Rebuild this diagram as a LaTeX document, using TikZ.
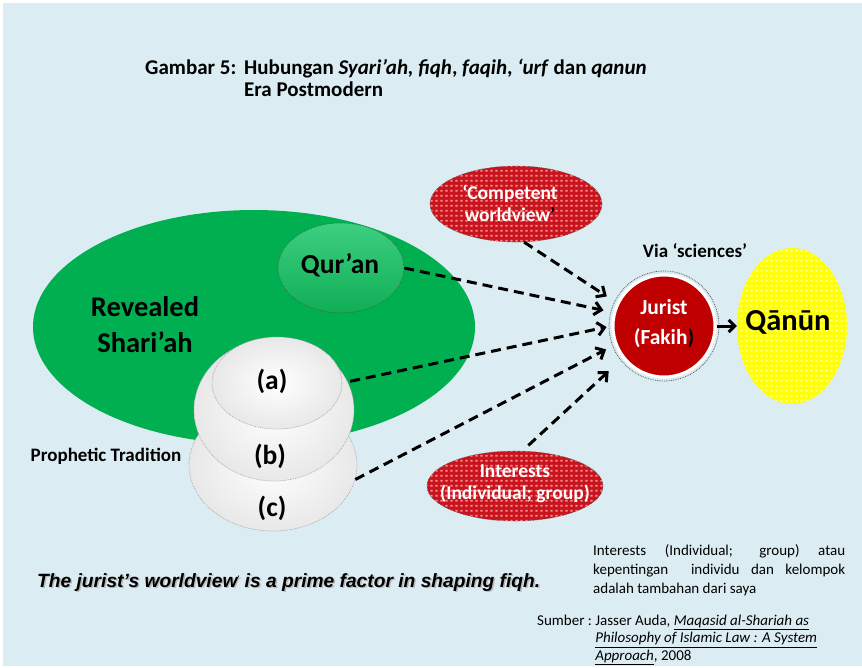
\documentclass[tikz,border=0pt]{standalone}
\usepackage{fontspec}
\setmainfont{Carlito}
\newfontfamily\arialfont{Liberation Sans}
\usetikzlibrary{shapes.geometric,arrows.meta,patterns.meta}

\definecolor{bgblue}{HTML}{DBEDF3}
\definecolor{sgreen}{HTML}{00B050}
\definecolor{qgreenT}{HTML}{3CCF80}
\definecolor{qgreenB}{HTML}{10AE55}
\definecolor{dred}{HTML}{C8141E}
\definecolor{jred}{HTML}{C00000}
\definecolor{qyellow}{HTML}{FFFF00}

\tikzdeclarepattern{
  name=gridsq,
  type=uncolored,
  bounding box={(0pt,0pt) and (5pt,5pt)},
  tile size={(5pt,5pt)},
  code={\fill (0.5pt,0.5pt) rectangle (3pt,2.6pt);}
}

\begin{document}
\begin{tikzpicture}[x=1pt,y=-1pt,
  blob/.style={ellipse, inner sep=0pt},
  redblob/.style={blob, fill=dred, draw=black!70, densely dotted, line width=0.6pt,
    postaction={pattern=gridsq, pattern color=red!45!white}},
  whiteblob/.style={blob, inner color=white, outer color=gray!18, draw=gray!70, densely dotted, line width=0.7pt},
  dasharrow/.style={line width=3pt, dash pattern=on 10pt off 6pt, -{Straight Barb[length=7pt,width=13pt,line width=3pt]}},
  solidarrow/.style={line width=3pt, -{Straight Barb[length=6pt,width=12pt,line width=3pt]}},
  bigtxt/.style={font=\fontsize{28.5}{36}\selectfont\bfseries, align=center},
  midtxt/.style={font=\fontsize{27.5}{30}\selectfont\bfseries},
  whitetxt/.style={font=\fontsize{19.5}{22}\selectfont\bfseries, text=white, align=center},
  labeltxt/.style={font=\fontsize{19}{22}\selectfont\bfseries},
  notetxt/.style={font=\fontsize{15}{19}\selectfont},
  moraltxt/.style={anchor=base west, inner sep=0pt, font=\arialfont\fontsize{19.2}{22}\selectfont\bfseries\itshape}
]
\useasboundingbox (0,0) rectangle (862,667);
\fill[white] (0,0) rectangle (862,667);
\fill[bgblue] (3,3) rectangle (862,666);

% title
\node[anchor=base west, inner sep=0pt, font=\fontsize{21}{24}\selectfont\bfseries] (t1) at (145,74) {Gambar 5:};
\node[anchor=base west, inner sep=0pt, font=\fontsize{21}{24}\selectfont\bfseries] (t2) at (244,74) {Hubungan \textit{Syari’ah, fiqh}, \textit{faqih}, \textit{‘urf} dan \textit{qanun}};
\node[anchor=base west, inner sep=0pt, font=\fontsize{21}{24}\selectfont\bfseries] (t3) at (244,96) {Era Postmodern};

% Shariah
\node[blob, fill=sgreen, minimum width=442pt, minimum height=234pt] (shariah) at (254,327) {};
\node[blob, top color=qgreenT, bottom color=qgreenB, draw=gray!60!black, densely dotted, line width=0.6pt,
      minimum width=126pt, minimum height=90pt] (quran) at (341,268) {};
\node[midtxt] (qurantxt) at (340,265) {Qur’an};
\node[bigtxt] (revtxt) at (145,325) {Revealed\\Shari’ah};

% Prophetic tradition stack
\node[whiteblob, minimum width=168pt, minimum height=132pt] (pc) at (273,465) {};
\node[whiteblob, minimum width=160pt, minimum height=142pt] (pb) at (274,410) {};
\node[whiteblob, minimum width=130pt, minimum height=92pt] (pa) at (277,383) {};
\node[midtxt] (atxt) at (272,381) {(a)};
\node[midtxt] (btxt) at (270,456) {(b)};
\node[midtxt] (ctxt) at (272,508) {(c)};
\node[labeltxt] (proph) at (106,456) {Prophetic Tradition};

% red ellipses
\node[redblob, minimum width=172pt, minimum height=76pt] (competent) at (516,204) {};
\node[whitetxt] (comptxt) at (510,203) {‘Competent\\worldview{\color{black}’}};
\node[redblob, minimum width=176pt, minimum height=70pt] (interests) at (515,486) {};
\node[whitetxt] (inttxt) at (515,484) {Interests\\(Individual; group)};

% Jurist
\node[circle, draw=gray!70!black, densely dotted, line width=0.8pt, minimum size=110pt, inner sep=0pt] (juristring) at (664,326) {};
\node[circle, fill=jred, draw=white, line width=3pt, minimum size=102pt, inner sep=0pt] (jurist) at (664,326) {};
\node[font=\fontsize{21.5}{30}\selectfont\bfseries, text=white, align=center] (jtxt) at (664,324) {Jurist\\(Fakih{\color{black})}};

% Qanun
\node[blob, fill=qyellow, minimum width=110pt, minimum height=156pt,
      postaction={pattern=gridsq, pattern color=yellow!40!white}] (qanun) at (792,326) {};
\node[font=\fontsize{30.5}{32}\selectfont\bfseries] (qtxt) at (788,322) {Qānūn};
\node[labeltxt] (via) at (695,251) {Via ‘sciences’};

% arrows
\draw[dasharrow, shorten >=12pt] (competent.-78) -- (jurist.154);
\draw[dasharrow, shorten >=10pt] (quran.east) -- (jurist.165);
\draw[dasharrow, shorten >=5pt, shorten <=8pt] (pa.east) -- (jurist.180);
\draw[dasharrow, shorten >=10pt] (pc.-10) -- (jurist.201);
\draw[dasharrow, shorten >=19pt, shorten <=8pt] (interests.78) -- (jurist.218);
\draw[solidarrow] (jurist.east) -- (qanun.west);

% bottom texts
\node[moraltxt, text=gray!55] (moralshadow) at (38.5,588.5)
  {The jurist’s worldview\raisebox{0.6ex}{\scriptsize‘} is a prime factor in shaping fiqh.};
\node[moraltxt] (moral) at (37,587)
  {The jurist’s worldview\raisebox{0.6ex}{\scriptsize‘} is a prime factor in shaping fiqh.};
\node[anchor=north west, inner sep=0pt, notetxt, text width=252pt, align=justify] (note) at (593,544)
  {Interests (Individual; group) atau\linebreak kepentingan\ \ individu dan kelompok\linebreak adalah tambahan dari saya};
\node[anchor=north west, inner sep=0pt, font=\fontsize{15}{17.5}\selectfont] (src) at (537,613)
  {\begin{tabular}{@{}l@{\ }l@{}}
   Sumber : & Jasser Auda, \underline{\textit{Maqasid al-Shariah as}}\\
   & \underline{\textit{Philosophy of Islamic Law : A System}}\\
   & \underline{\textit{Approach}}, 2008
   \end{tabular}};
\end{tikzpicture}
\end{document}
